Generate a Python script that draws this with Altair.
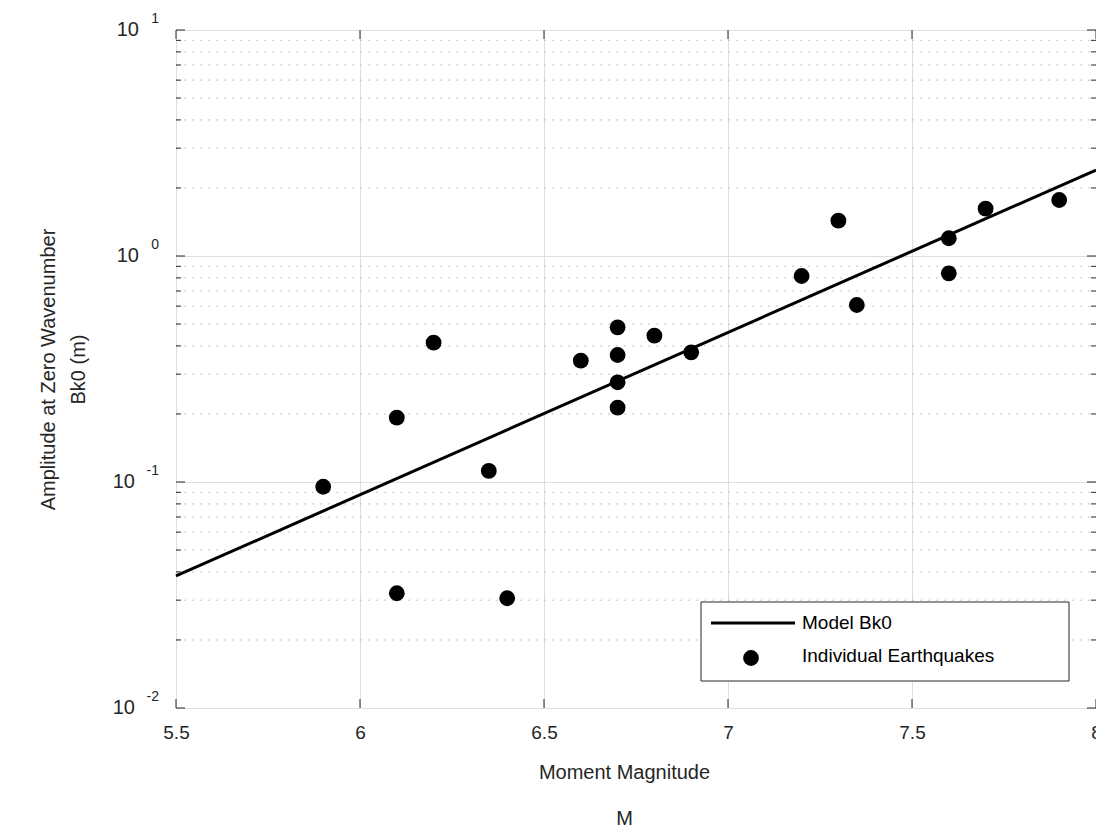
import altair as alt
import pandas as pd

# ---- data ----
magnitude = [5.9, 6.1, 6.1, 6.2, 6.35, 6.4, 6.6, 6.7, 6.7, 6.7, 6.7, 6.8, 6.9,
             7.2, 7.3, 7.35, 7.6, 7.6, 7.7, 7.9]
amplitude = [0.0953, 0.1926, 0.0322, 0.4134, 0.1119, 0.0306, 0.3441, 0.4835,
             0.3647, 0.2762, 0.2132, 0.4441, 0.3749, 0.8156, 1.433, 0.6069,
             1.198, 0.8385, 1.619, 1.769]
model_magnitude = [5.5, 8.0]
model_amplitude = [0.0384, 2.40]
x_tick_values = [5.5, 6.0, 6.5, 7.0, 7.5, 8.0]
y_major_values = [0.01, 0.1, 1.0, 10.0]
y_exponents = ["-2", "-1", "0", "1"]
y_minor_values = [0.02, 0.03, 0.04, 0.05, 0.06, 0.07, 0.08, 0.09,
                  0.2, 0.3, 0.4, 0.5, 0.6, 0.7, 0.8, 0.9,
                  2, 3, 4, 5, 6, 7, 8, 9]
legend_labels = ["Model Bk0", "Individual Earthquakes"]

W, H = 920, 678
FONT = "Liberation Sans"
INK = "#262626"
GRID = "#dedede"
MINOR = "#c4c4c4"

pts = pd.DataFrame({"M": magnitude, "B": amplitude})
model = pd.DataFrame({"M": model_magnitude, "B": model_amplitude})
xt = pd.DataFrame({"M": x_tick_values})
ymaj = pd.DataFrame({"B": y_major_values, "e": y_exponents})
ymin = pd.DataFrame({"B": y_minor_values})
one = pd.DataFrame({"k": [0]})

xscale = alt.Scale(domain=[5.5, 8], nice=False, zero=False)
yscale = alt.Scale(type="log", domain=[0.01, 10], nice=False)

xa = alt.Axis(values=x_tick_values, grid=True, gridColor=GRID, ticks=False,
              domain=False, labelFontSize=19, labelColor=INK, labelPadding=15,
              labelFlush=False, labelOverlap=False, format="~g",
              title=["Moment Magnitude", "M"], titleFontSize=20,
              titleFontWeight="normal", titleColor=INK, titleLineHeight=46,
              titleX=448, titleY=64, titleBaseline="middle", titleAlign="center")
ya = alt.Axis(values=y_major_values, grid=True, gridColor=GRID, ticks=False,
              domain=False, labels=False,
              title=["Amplitude at Zero Wavenumber", "Bk0 (m)"], titleFontSize=20,
              titleFontWeight="normal", titleColor=INK, titleLineHeight=30,
              titleAngle=270, titleX=-128, titleY=H / 2, titleAlign="center",
              titleBaseline="middle")


def X(f="M:Q"):
    return alt.X(f, scale=xscale, axis=xa)


def Y(f="B:Q"):
    return alt.Y(f, scale=yscale, axis=ya)


minor_grid = alt.Chart(ymin).mark_rule(color=MINOR, strokeDash=[2, 6], strokeWidth=1).encode(
    y=Y(), x=alt.value(0), x2=alt.value(W))

model_line = alt.Chart(model).mark_line(color="black", strokeWidth=3).encode(x=X(), y=Y())

points = alt.Chart(pts).mark_circle(color="black", size=250, opacity=1).encode(x=X(), y=Y())

# inward ticks (box style)
tick_b = alt.Chart(xt).mark_rule(color=INK).encode(x=X(), y=alt.value(H), y2=alt.value(H - 9))
tick_t = alt.Chart(xt).mark_rule(color=INK).encode(x=X(), y=alt.value(0), y2=alt.value(9))
tick_l = alt.Chart(ymaj).mark_rule(color=INK).encode(y=Y(), x=alt.value(0), x2=alt.value(9))
tick_r = alt.Chart(ymaj).mark_rule(color=INK).encode(y=Y(), x=alt.value(W), x2=alt.value(W - 9))
mtick_l = alt.Chart(ymin).mark_rule(color=INK).encode(y=Y(), x=alt.value(0), x2=alt.value(5))
mtick_r = alt.Chart(ymin).mark_rule(color=INK).encode(y=Y(), x=alt.value(W), x2=alt.value(W - 5))

# y tick labels as 10^e
exp_lbl = alt.Chart(ymaj).mark_text(align="right", baseline="middle", fontSize=14,
                                    font=FONT, color=INK, dy=-11).encode(
    y=Y(), x=alt.value(-17), text="e:N")
base_pos = alt.Chart(ymaj).transform_filter("datum.B >= 1").mark_text(
    align="right", baseline="middle", fontSize=20, font=FONT, color=INK).encode(
    y=Y(), x=alt.value(-37), text=alt.value("10"))
base_neg = alt.Chart(ymaj).transform_filter("datum.B < 1").mark_text(
    align="right", baseline="middle", fontSize=20, font=FONT, color=INK).encode(
    y=Y(), x=alt.value(-41), text=alt.value("10"))

# legend box
leg_box = alt.Chart(one).mark_rect(fill="white", stroke=INK, strokeWidth=1).encode(
    x=alt.value(525), x2=alt.value(893), y=alt.value(572), y2=alt.value(651))
leg_line = alt.Chart(one).mark_rule(color="black", strokeWidth=3).encode(
    x=alt.value(535), x2=alt.value(619), y=alt.value(593))
leg_dot = alt.Chart(one).mark_circle(color="black", size=250, opacity=1).encode(
    x=alt.value(575), y=alt.value(628))
leg_t1 = alt.Chart(one).mark_text(align="left", baseline="middle", fontSize=19,
                                  font=FONT, color="black").encode(
    x=alt.value(626), y=alt.value(593), text=alt.value(legend_labels[0]))
leg_t2 = alt.Chart(one).mark_text(align="left", baseline="middle", fontSize=19,
                                  font=FONT, color="black").encode(
    x=alt.value(626), y=alt.value(626), text=alt.value(legend_labels[1]))

chart = alt.layer(
    minor_grid, model_line, points, tick_b, tick_t, tick_l, tick_r, mtick_l, mtick_r,
    exp_lbl, base_pos, base_neg, leg_box, leg_line, leg_dot, leg_t1, leg_t2
).properties(
    width=W, height=H,
    padding={"left": 176, "top": 30, "right": 0, "bottom": 121},
    autosize=alt.AutoSizeParams(type="none"),
    background="white",
).configure_view(stroke=INK, strokeWidth=1).configure(font=FONT)

chart.save("out.html", embed_options={"renderer": "svg", "actions": False})
